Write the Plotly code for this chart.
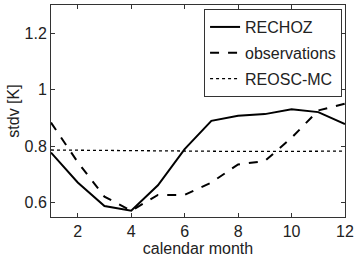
import plotly.graph_objects as go

months = [1, 2, 3, 4, 5, 6, 7, 8, 9, 10, 11, 12]
rechoz = [0.778, 0.672, 0.589, 0.572, 0.662, 0.79, 0.89, 0.908, 0.914, 0.931, 0.921, 0.879]
observations = [0.884, 0.744, 0.622, 0.572, 0.628, 0.628, 0.672, 0.736, 0.748, 0.83, 0.927, 0.951]
reosc_mc = [0.787, 0.786, 0.785, 0.784, 0.783, 0.782, 0.782, 0.782, 0.782, 0.782, 0.782, 0.783]

x_ticks = [2, 4, 6, 8, 10, 12]
y_ticks = [0.6, 0.8, 1.0, 1.2]
y_tick_labels = ["0.6", "0.8", "1", "1.2"]

fig = go.Figure()
fig.add_trace(go.Scatter(x=months, y=rechoz, mode="lines", name="RECHOZ", legendgroup="a",
                         line=dict(color="black", width=2, dash="solid")))
fig.add_trace(go.Scatter(x=months, y=observations, mode="lines", name="observations", legendgroup="b",
                         line=dict(color="black", width=2, dash="dash")))
fig.add_trace(go.Scatter(x=months, y=reosc_mc, mode="lines", name="REOSC-MC", legendgroup="c",
                         line=dict(color="black", width=1.3, dash="dot")))

axis_common = dict(showline=True, linecolor="#333", linewidth=1, mirror="ticks",
                   ticks="inside", ticklen=4, tickcolor="#333", showgrid=False,
                   zeroline=False, automargin=False,
                   tickfont=dict(size=16, color="#222"))

fig.update_layout(
    width=357, height=261,
    margin=dict(l=51, r=12, t=5, b=44, autoexpand=False),
    paper_bgcolor="white", plot_bgcolor="white",
    font=dict(family="Liberation Sans, Arial, sans-serif", size=16, color="#222"),
    xaxis=dict(range=[1, 12], tickvals=x_ticks,
               title=dict(text="calendar month", standoff=3, font=dict(size=16)),
               **axis_common),
    yaxis=dict(range=[0.55, 1.3], tickvals=y_ticks, ticktext=y_tick_labels,
               title=dict(text="stdv [K]", standoff=0, font=dict(size=16)),
               **axis_common),
    legend=dict(x=0.99, y=0.981, xanchor="right", yanchor="top",
                bgcolor="white", bordercolor="#333", borderwidth=1,
                font=dict(size=16, color="#222"), tracegroupgap=2,
                itemwidth=30),
    showlegend=True,
)

fig.write_html("out.html", config={"displayModeBar": False},
               post_script="document.body.style.margin='0';")
